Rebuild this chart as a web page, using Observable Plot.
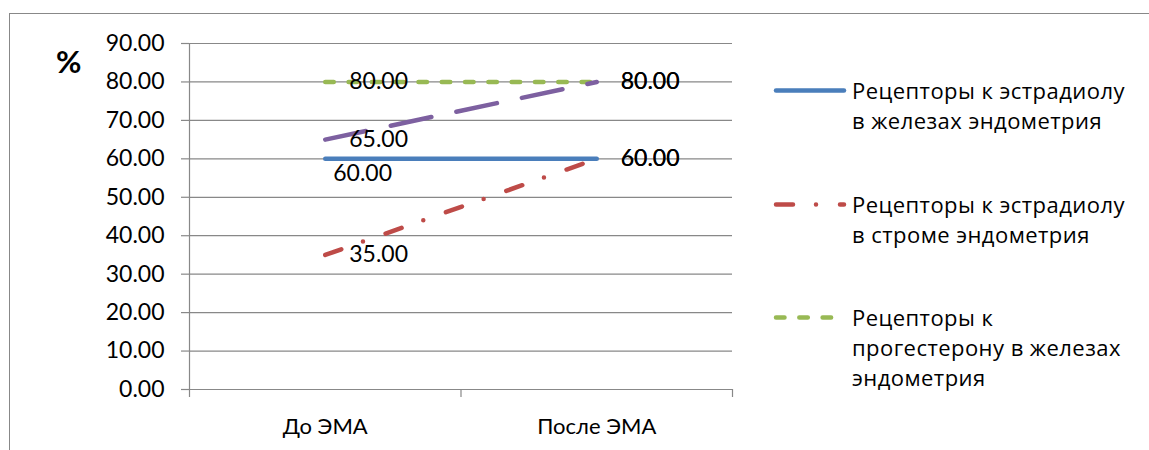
<!DOCTYPE html>
<html>
<head>
<meta charset="utf-8">
<script src="https://cdn.jsdelivr.net/npm/d3@7"></script>
<script src="https://cdn.jsdelivr.net/npm/@observablehq/plot@0.6"></script>
<style>
  body { margin: 0; background: #fff; }
  #chart { position: relative; width: 1149px; height: 450px; overflow: hidden; font-family: Lato, sans-serif; color: #000; }
  #frame { position: absolute; left: 9px; top: 13px; width: 1300px; height: 600px;
           border-top: 1.3px solid #888; border-left: 1.3px solid #888; }
  #plot { position: absolute; left: 0; top: 0; }
  #unit { position: absolute; left: 56px; top: 46px; font-size: 31px; font-weight: bold; line-height: 1; }
  .entry { position: absolute; left: 772px; }
  .entry svg { position: absolute; left: 0; top: 0; }
  .entry .name { position: absolute; left: 80px; top: 0; white-space: nowrap; font-family: "Open Sans", sans-serif;
                 font-size: 22px; letter-spacing: 0.45px; line-height: 30px; }
</style>
</head>
<body>
<div id="chart">
  <div id="frame"></div>
  <div id="plot"></div>
  <div id="unit">%</div>
</div>
<script>
// Measurement points along the x axis
const categories = ["До ЭМА", "После ЭМА"];

// Series names as set in the legend, one array item per line
const legendLines = [
  ["Рецепторы к эстрадиолу", "в железах эндометрия"],
  ["Рецепторы к эстрадиолу", "в строме эндометрия"],
  ["Рецепторы к", "прогестерону в железах", "эндометрия"],
  ["Рецепторы к", "прогестерону в строме", "эндометрия"]
];

// Receptor expression, % (before / after)
const estradiolGlands = [60, 60];
const estradiolStroma = [35, 60];
const progesteroneGlands = [80, 80];
const progesteroneStroma = [65, 80];
const seriesValues = [estradiolGlands, estradiolStroma, progesteroneGlands, progesteroneStroma];

// Value axis ticks
const yTicks = [0, 10, 20, 30, 40, 50, 60, 70, 80, 90];

// Line styling per series
const seriesColors = ["#4A7EBB", "#BE4B48", "#98B954", "#7D60A0"];
const seriesDashes = [null, "17 23 0 24", "8.5 14.8", "41.5 25.5"];

// Long table: one row per series and category; x is the category slot centre
const rows = seriesValues.flatMap((vals, s) =>
  vals.map((v, i) => ({ series: s, x: i + 0.5, category: categories[i], value: v }))
);

const grid = "#888";
const lineMarks = seriesValues.map((_, s) =>
  Plot.line(rows.filter(d => d.series === s), {
    x: "x", y: "value",
    stroke: seriesColors[s], strokeWidth: 4.5,
    strokeLinecap: "round", strokeLinejoin: "round",
    strokeDasharray: seriesDashes[s]
  })
);

// The first glands-estradiol label sits below its point; all others sit to the right
const isShifted = d => d.series === 0 && d.x === 0.5;

const chart = Plot.plot({
  width: 1149, height: 450,
  marginLeft: 189, marginRight: 417, marginTop: 43, marginBottom: 61,
  style: { fontFamily: "Lato, sans-serif", fontSize: "23px", color: "#000", background: "transparent", overflow: "visible" },
  x: { domain: [0, categories.length] },
  y: { domain: [0, 90] },
  marks: [
    Plot.gridY(yTicks, { stroke: grid, strokeOpacity: 1, strokeWidth: 1.2 }),
    Plot.ruleX([0], { stroke: grid, strokeWidth: 1.2 }),
    Plot.axisY(yTicks, { tickSize: 8, tickPadding: 17, stroke: grid, strokeWidth: 1.2, fill: "#000",
                         tickFormat: d => d.toFixed(2), label: null, fontSize: 23 }),
    Plot.axisX(d3.range(categories.length + 1), { tickSize: 8, stroke: grid, strokeWidth: 1.2,
                         tickFormat: () => "", label: null }),
    Plot.axisX(categories.map((_, i) => i + 0.5), { tickSize: 0, tickPadding: 29, fill: "#000",
                         tickFormat: d => categories[Math.floor(d)], label: null, fontSize: 22 }),
    ...lineMarks,
    Plot.text(rows.filter(d => !isShifted(d)), {
      x: "x", y: "value", text: d => d.value.toFixed(2),
      dx: 24, textAnchor: "start", fill: "#000", fontSize: 23
    }),
    Plot.text(rows.filter(isShifted), {
      x: "x", y: "value", text: d => d.value.toFixed(2),
      dx: 8, dy: 15, textAnchor: "start", fill: "#000", fontSize: 23
    })
  ]
});
document.getElementById("plot").appendChild(chart);

// Legend: the box has room for the first three entries
const legendTops = [75, 189, 302];
const chartDiv = d3.select("#chart");
legendTops.forEach((top, s) => {
  const entry = chartDiv.append("div").attr("class", "entry").style("top", top + "px");
  const svg = entry.append("svg").attr("width", 78).attr("height", 30);
  svg.append("line")
    .attr("x1", 4).attr("x2", 72).attr("y1", 15.5).attr("y2", 15.5)
    .attr("stroke", seriesColors[s]).attr("stroke-width", 4.5)
    .attr("stroke-linecap", "round")
    .attr("stroke-dasharray", seriesDashes[s]);
  const name = entry.append("div").attr("class", "name");
  legendLines[s].forEach(line => name.append("div").text(line));
});
</script>
</body>
</html>
